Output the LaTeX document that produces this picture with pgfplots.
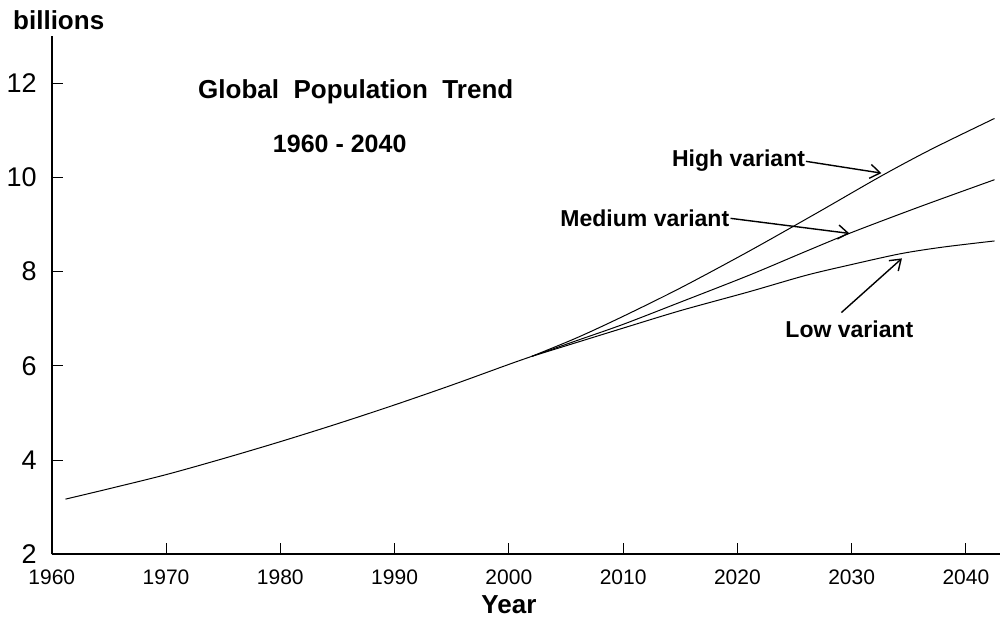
\documentclass[border=0pt]{standalone}
\usepackage{fontspec}
\setmainfont{Liberation Sans}
\usepackage{pgfplots}
\pgfplotsset{compat=1.18}
\usetikzlibrary{arrows.meta}
\begin{document}
\begin{tikzpicture}
\begin{axis}[
  scale only axis,
  width=474pt, height=259pt,
  xmin=1960, xmax=2043,
  ymin=2, ymax=13,
  axis lines=left,
  axis line style={-, line width=0.8pt},
  xtick={1960,1970,...,2040},
  ytick={2,4,...,12},
  tick align=inside,
  major tick length=5.5pt,
  tick style={black, line width=0.5pt},
  /pgf/number format/assume math mode=true,
  /pgf/number format/1000 sep={},
  xticklabel style={font=\fontsize{10.5}{12}\selectfont, yshift=-4.5pt},
  yticklabel style={font=\fontsize{13.5}{15}\selectfont, xshift=-4pt},
  xlabel={\bfseries Year},
  xlabel style={font=\fontsize{13}{15}\selectfont, at={(axis description cs:0.482,0)}, anchor=center, yshift=-25pt, inner sep=0pt},
  clip=false,
]
\addplot[black, line width=0.5pt, smooth] coordinates {
(1961.2,3.17) (1965,3.39) (1970,3.69) (1975,4.03) (1980,4.39) (1985,4.77) (1990,5.17) (1995,5.59) (2000,6.03) (2002,6.20)
};
\addplot[black, line width=0.5pt, smooth] coordinates {
(2002,6.20) (2006,6.60) (2010,7.05) (2015,7.65) (2021,8.43) (2027,9.25) (2032.6,10.03) (2037,10.60) (2042.5,11.25)
};
\addplot[black, line width=0.5pt, smooth] coordinates {
(2002,6.20) (2006,6.54) (2010,6.88) (2015,7.35) (2021,7.92) (2026,8.43) (2030,8.83) (2036,9.38) (2042.5,9.95)
};
\addplot[black, line width=0.5pt, smooth] coordinates {
(2002,6.20) (2006,6.50) (2010,6.80) (2015,7.17) (2021,7.57) (2026,7.92) (2030,8.15) (2034.3,8.38) (2038,8.52) (2042.5,8.65)
};
\path ([yshift=-31.5pt]rel axis cs:0,0) -- ([yshift=18pt]rel axis cs:0,1);
\node[font=\bfseries\fontsize{13}{15}\selectfont, anchor=west, inner sep=0pt] at ([xshift=-19.5pt, yshift=8pt]rel axis cs:0,1) {billions};
\node[font=\bfseries\fontsize{13}{15}\selectfont, inner sep=0pt] at (axis cs:1986.6,11.82) {Global\ \ Population\ \ Trend};
\node[font=\bfseries\fontsize{12.5}{14}\selectfont, inner sep=0pt] at (axis cs:1985.2,10.70) {1960 - 2040};
\node[font=\bfseries\fontsize{11.5}{13}\selectfont, inner sep=0pt] at (axis cs:2020.1,10.36) {High variant};
\node[font=\bfseries\fontsize{11.5}{13}\selectfont, inner sep=0pt] at (axis cs:2011.9,9.13) {Medium variant};
\node[font=\bfseries\fontsize{11.5}{13}\selectfont, inner sep=0pt] at (axis cs:2029.8,6.77) {Low variant};
\draw[-{Straight Barb[length=5pt,width=7pt]}, line width=0.7pt] (axis cs:2026.0,10.34) -- (axis cs:2032.6,10.09);
\draw[-{Straight Barb[length=5pt,width=7pt]}, line width=0.7pt] (axis cs:2019.4,9.13) -- (axis cs:2029.8,8.81);
\draw[-{Straight Barb[length=5pt,width=7pt]}, line width=0.7pt] (axis cs:2029.1,7.13) -- (axis cs:2034.4,8.28);
\end{axis}
\end{tikzpicture}
\end{document}
